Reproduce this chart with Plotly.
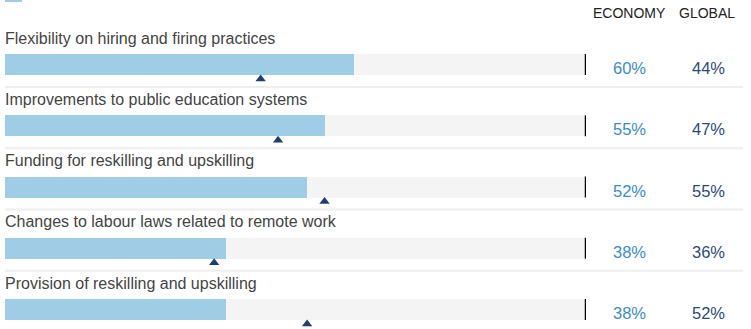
import plotly.graph_objects as go

categories = [
    "Flexibility on hiring and firing practices",
    "Improvements to public education systems",
    "Funding for reskilling and upskilling",
    "Changes to labour laws related to remote work",
    "Provision of reskilling and upskilling",
]
economy = [60, 55, 52, 38, 38]
global_vals = [44, 47, 55, 36, 52]
col_headers = ["ECONOMY", "GLOBAL"]

W, H = 751, 329
PITCH = 61.25
C0 = 64.5  # pixel center of first bar
rows = list(range(len(categories)))


def py(pix_offset):
    return pix_offset / PITCH


BAR_W = 21 / PITCH
FONT = "Liberation Sans, Arial, Helvetica, sans-serif"

fig = go.Figure()
# background tracks
fig.add_trace(go.Bar(
    x=[100] * len(rows), y=rows, orientation="h", width=BAR_W,
    marker=dict(color="#f4f4f4", line=dict(width=0)), hoverinfo="skip", showlegend=False,
))
# economy bars
fig.add_trace(go.Bar(
    x=economy, y=rows, orientation="h", width=BAR_W,
    marker=dict(color="#a0cde6", line=dict(width=0)), showlegend=False,
))
# global markers
fig.add_trace(go.Scatter(
    x=global_vals, y=[r + py(14.5) for r in rows], mode="markers",
    marker=dict(symbol="triangle-up", size=9, color="#1f3f73", line=dict(width=0)),
    showlegend=False,
))

shapes = []
annotations = []
for i, r in enumerate(rows):
    # end marker line
    shapes.append(dict(type="line", xref="x", yref="y", x0=100, x1=100,
                       y0=r - BAR_W / 2, y1=r + BAR_W / 2,
                       line=dict(color="#000000", width=2.5)))
    # separator
    shapes.append(dict(type="line", xref="paper", yref="y", x0=5 / W, x1=743 / W,
                       y0=r + py(22.5), y1=r + py(22.5),
                       line=dict(color="#eeeeee", width=2)))
    annotations.append(dict(x=0, y=r - py(26.5), xref="x", yref="y", text=categories[i],
                            showarrow=False, xanchor="left", yanchor="middle", xshift=-2,
                            font=dict(size=16, color="#444444", family=FONT)))
    annotations.append(dict(x=629 / W, y=r + py(3.5), xref="paper", yref="y",
                            text=f"{economy[i]}%", showarrow=False, xanchor="center",
                            yanchor="middle", font=dict(size=16.5, color="#3a8dc8", family=FONT)))
    annotations.append(dict(x=708 / W, y=r + py(3.5), xref="paper", yref="y",
                            text=f"{global_vals[i]}%", showarrow=False, xanchor="center",
                            yanchor="middle", font=dict(size=16.5, color="#2b4b7b", family=FONT)))

for hx, h in zip([629, 707], col_headers):
    annotations.append(dict(x=hx / W, y=1 - 13 / H, xref="paper", yref="paper", text=h,
                            showarrow=False, xanchor="center", yanchor="middle",
                            font=dict(size=14, color="#222222", family=FONT)))

# small legend swatch cut off at top
shapes.append(dict(type="rect", xref="paper", yref="paper", x0=5 / W, x1=22 / W,
                   y0=1 - 2 / H, y1=1, line=dict(width=0), fillcolor="#a0cde6"))

y_top = -C0 / PITCH
y_bot = (H - C0) / PITCH

fig.update_layout(
    width=W, height=H, margin=dict(l=0, r=0, t=0, b=0),
    paper_bgcolor="white", plot_bgcolor="white",
    barmode="overlay", bargap=0,
    xaxis=dict(range=[0, 100], domain=[5 / W, 586 / W], visible=False, fixedrange=True),
    yaxis=dict(range=[y_bot, y_top], visible=False, fixedrange=True),
    shapes=shapes, annotations=annotations, showlegend=False,
)

fig.write_html("out.html", post_script="document.body.style.margin='0';",
               config={"displayModeBar": False})
